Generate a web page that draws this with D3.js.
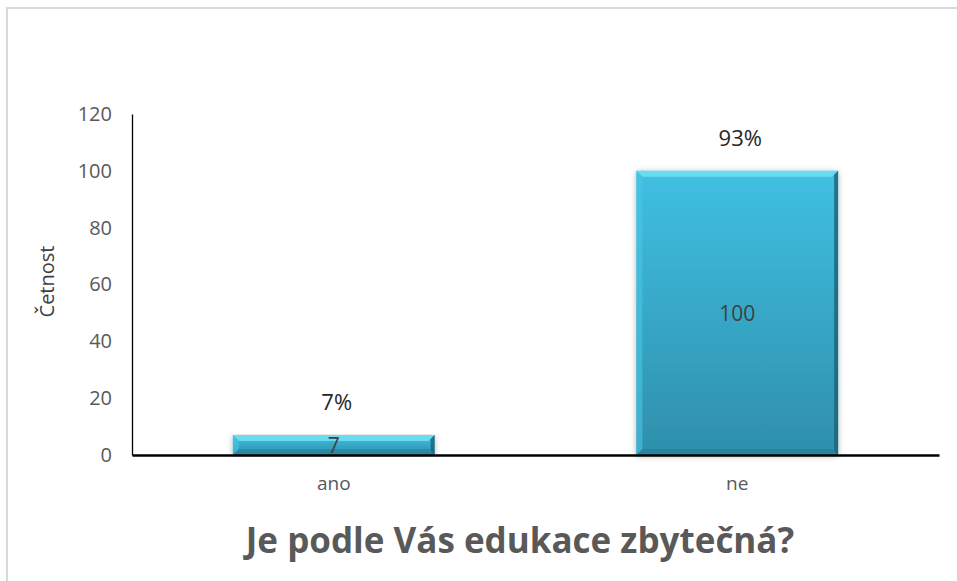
<!DOCTYPE html>
<meta charset="utf-8">
<style>
  body { margin: 0; background: #fff; }
  text { font-family: "Open Sans", "Noto Sans", sans-serif; }
</style>
<body>
<div id="vis"></div>
<script src="https://cdn.jsdelivr.net/npm/d3@7"></script>
<script>

const categories = ['ano', 'ne'];
const counts = [7, 100];
const percents = ['7%', '93%'];
const yTicks = [0, 20, 40, 60, 80, 100, 120];

const width = 957,
    height = 581;

const margin = {left: 132, right: 18, top: 114, bottom: 126};

const svg = d3.select('#vis')
    .append('svg')
    .attr('width', width)
    .attr('height', height);

// outer frame
svg.append('path')
    .attr('d', 'M7,' + (height + 2) + 'V8H' + (width + 2))
    .style('stroke', '#d9d9d9')
    .style('stroke-width', 2)
    .style('fill', 'none');

const defs = svg.append('defs');
const grad = defs.append('linearGradient')
    .attr('id', 'barGrad')
    .attr('x1', 0).attr('y1', 0).attr('x2', 0).attr('y2', 1);
grad.append('stop').attr('offset', '0%').attr('stop-color', '#40c0e2');
grad.append('stop').attr('offset', '100%').attr('stop-color', '#2e8fac');

const shadow = defs.append('filter').attr('id', 'shadow')
    .attr('x', '-10%').attr('y', '-10%').attr('width', '120%').attr('height', '120%');
shadow.append('feGaussianBlur').attr('in', 'SourceAlpha').attr('stdDeviation', 3);
shadow.append('feOffset').attr('dx', 0).attr('dy', 1).attr('result', 'b');
shadow.append('feComponentTransfer').append('feFuncA').attr('type', 'linear').attr('slope', 0.3);
const merge = shadow.append('feMerge');
merge.append('feMergeNode');
merge.append('feMergeNode').attr('in', 'SourceGraphic');

const x = d3.scaleBand()
    .domain(categories)
    .range([margin.left, width - margin.right])
    .paddingInner(0.5)
    .paddingOuter(0.25);

const y = d3.scaleLinear()
    .domain([0, 120])
    .range([height - margin.bottom, margin.top]);

// y axis
const yAxis = svg.append('g')
    .attr('transform', 'translate(' + margin.left + ',0)')
    .call(d3.axisLeft(y).tickValues(yTicks).tickSize(0).tickPadding(20));
yAxis.select('.domain').style('stroke', '#000').style('stroke-width', 1.3);
yAxis.selectAll('text')
    .style('font-size', '20px')
    .style('fill', '#595959')
    .style('font-family', '"Open Sans", sans-serif');

// bars
const bars = svg.selectAll('.bar')
    .data(categories)
    .enter().append('g')
    .attr('class', 'bar');

const bevel = 6;
bars.append('rect')
    .attr('x', d => x(d))
    .attr('y', (d, i) => y(counts[i]))
    .attr('width', x.bandwidth())
    .attr('height', (d, i) => y(0) - y(counts[i]))
    .style('fill', 'url(#barGrad)')
    .attr('filter', 'url(#shadow)');

// top bevel highlight
bars.append('path')
    .attr('d', (d, i) => {
      const x0 = x(d), x1 = x(d) + x.bandwidth(), t = y(counts[i]);
      const b = Math.min(bevel, (y(0) - t) / 2);
      return 'M' + x0 + ',' + t + 'H' + x1 + 'L' + (x1 - b) + ',' + (t + b) + 'H' + (x0 + b) + 'Z';
    })
    .style('fill', '#72e0f5')
    .style('opacity', 0.85);

// left bevel
bars.append('path')
    .attr('d', (d, i) => {
      const x0 = x(d), t = y(counts[i]), bt = y(0);
      const b = Math.min(bevel, (bt - t) / 2);
      return 'M' + x0 + ',' + t + 'L' + (x0 + b) + ',' + (t + b) + 'V' + (bt - b) + 'L' + x0 + ',' + bt + 'Z';
    })
    .style('fill', '#49c6e6')
    .style('opacity', 0.6);

// right bevel
bars.append('path')
    .attr('d', (d, i) => {
      const x1 = x(d) + x.bandwidth(), t = y(counts[i]), bt = y(0);
      const b = Math.min(bevel - 2, (bt - t) / 2);
      return 'M' + x1 + ',' + t + 'L' + (x1 - b) + ',' + (t + b) + 'V' + (bt - b) + 'L' + x1 + ',' + bt + 'Z';
    })
    .style('fill', '#1a6177')
    .style('opacity', 0.8);

// bottom bevel
bars.append('path')
    .attr('d', (d, i) => {
      const x0 = x(d), x1 = x(d) + x.bandwidth(), t = y(counts[i]), bt = y(0);
      const b = Math.min(bevel, (bt - t) / 2);
      return 'M' + x0 + ',' + bt + 'H' + x1 + 'L' + (x1 - b) + ',' + (bt - b) + 'H' + (x0 + b) + 'Z';
    })
    .style('fill', '#287d96')
    .style('opacity', 0.6);

// x axis
const xAxis = svg.append('g')
    .attr('transform', 'translate(0,' + y(0) + ')')
    .call(d3.axisBottom(x).tickSize(0).tickPadding(22).tickSizeOuter(0));
xAxis.select('.domain').style('stroke', '#000').style('stroke-width', 2.5);
xAxis.selectAll('text')
    .style('font-size', '19px')
    .style('fill', '#595959')
    .style('font-family', '"Open Sans", sans-serif');

// value labels in bars
bars.append('text')
    .attr('x', d => x(d) + x.bandwidth() / 2)
    .attr('y', (d, i) => (y(counts[i]) + y(0)) / 2 + 8)
    .style('text-anchor', 'middle')
    .style('font-size', '21px')
    .style('fill', '#404040')
    .text((d, i) => counts[i]);

// percentage labels above bars
bars.append('text')
    .attr('x', d => x(d) + x.bandwidth() / 2 + 3)
    .attr('y', (d, i) => y(counts[i]) - 25)
    .style('text-anchor', 'middle')
    .style('font-size', '22px')
    .style('fill', '#262626')
    .text((d, i) => percents[i]);

// axis title
svg.append('text')
    .attr('transform', 'translate(54,' + (y(60) - 3) + ') rotate(-90)')
    .style('text-anchor', 'middle')
    .style('font-size', '20px')
    .style('fill', '#404040')
    .text('Četnost');

// chart title
svg.append('text')
    .attr('x', 520)
    .attr('y', 553)
    .style('text-anchor', 'middle')
    .style('font-size', '35px')
    .style('font-weight', 'bold')
    .style('fill', '#595959')
    .text('Je podle Vás edukace zbytečná?');

</script>
</body>
